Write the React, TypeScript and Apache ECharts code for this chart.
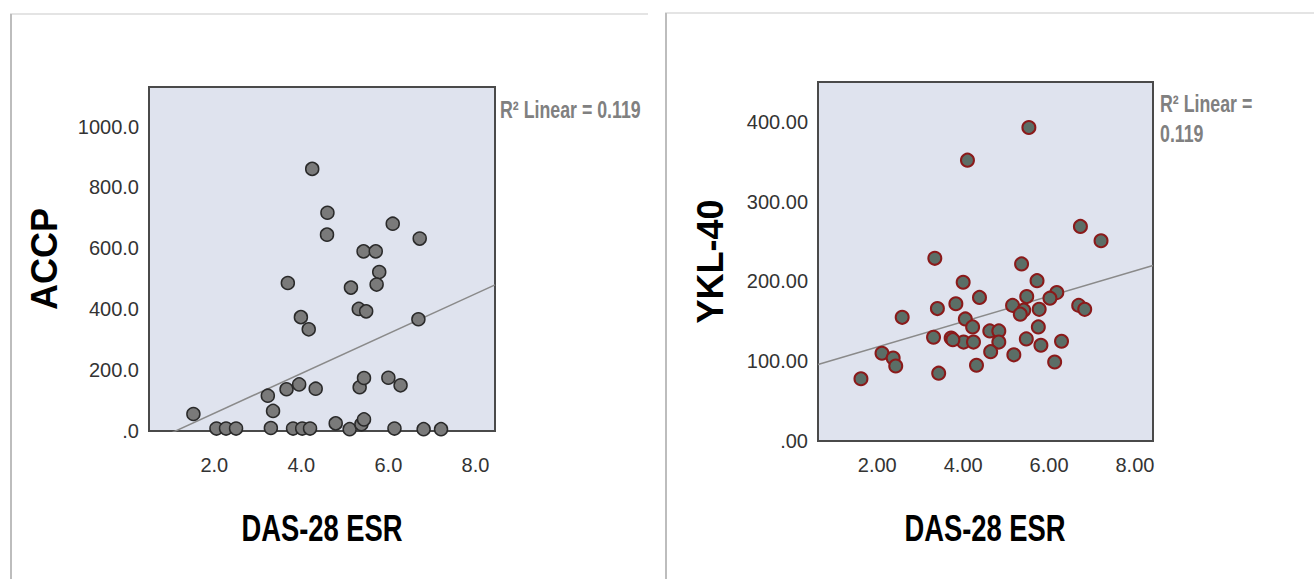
import React, { useEffect, useRef } from "react";
import * as echarts from "echarts";

// ---- Data ----
const accpDas = [4.25, 4.6, 4.59, 6.1, 6.72, 5.43, 5.71, 5.79, 5.73, 3.69, 5.14, 5.32, 5.49, 3.99, 4.17, 6.69, 3.23, 3.35, 3.66, 3.95, 4.33, 5.34, 5.44, 6.0, 6.28, 1.52, 2.05, 2.27, 2.5, 3.3, 3.81, 4.02, 4.2, 4.79, 5.11, 5.38, 5.44, 6.14, 6.81, 7.21];
const accpVal = [861, 717, 645, 681, 632, 590, 590, 522, 481, 486, 471, 401, 393, 374, 334, 367, 116, 66, 137, 153, 139, 144, 174, 175, 150, 56, 8, 8, 8, 10, 8, 8, 8, 25, 6, 22, 38, 8, 6, 6];

const yklDas = [5.53, 4.1, 6.73, 7.21, 3.34, 5.36, 5.72, 4.0, 4.38, 3.83, 5.48, 6.18, 6.02, 5.15, 5.41, 5.33, 5.77, 6.69, 6.83, 3.4, 2.58, 4.05, 4.22, 3.31, 3.72, 4.01, 4.24, 4.62, 4.83, 4.83, 4.64, 5.75, 5.47, 6.29, 5.81, 5.18, 6.13, 4.31, 3.43, 2.11, 2.37, 2.43, 1.62, 3.76];
const yklVal = [393, 352, 269, 251, 229, 222, 201, 199, 180, 172, 181, 186, 179, 170, 164, 159, 165, 170, 165, 166, 155, 153, 143, 130, 129, 124, 124, 138, 138, 124, 112, 143, 128, 125, 120, 108, 99, 95, 85, 110, 104, 94, 78, 127];

// fit lines (slope, intercept)
const accpFit = { slope: 65.4, intercept: -72.6 };
const yklFit = { slope: 15.9, intercept: 86 };

const xTicks = [2, 4, 6, 8];
const accpTicks = [0, 200, 400, 600, 800, 1000];
const yklTicks = [0, 100, 200, 300, 400];
const r2Text = "R\u00B2 Linear = 0.119";
const xName = "DAS-28 ESR";

const xRangeL = { min: 0.5, max: 8.45 };
const xRangeR = { min: 0.62, max: 8.42 };

const SANS = "'Liberation Sans', Arial, sans-serif";
const SQUEEZE = 0.74;

const zeroFmt = (v: number, d: number) => (v === 0 ? "." + "0".repeat(d) : v.toFixed(d));

export default function App() {
  const ref = useRef<HTMLDivElement>(null);
  useEffect(() => {
    if (!ref.current) return;
    const chart = echarts.init(ref.current, null, { renderer: "svg" });
    const gridStyle = {
      show: true,
      backgroundColor: "#dfe3ee",
      borderColor: "#4a4a4a",
      borderWidth: 2,
    };
    const xAxisBase = (gi: number, range: any, dec: number, margin: number) => ({
      gridIndex: gi,
      type: "value",
      min: range.min,
      max: range.max,
      splitLine: { show: false },
      axisLine: { show: false },
      axisTick: { show: false },
      axisLabel: {
        customValues: xTicks,
        formatter: (v: number) => zeroFmt(v, dec),
        margin,
        fontSize: 20,
        fontFamily: SANS,
        color: "#333",
      },
    });
    const yAxisBase = (gi: number, max: number, ticks: number[], dec: number, name: string, gap: number) => ({
      gridIndex: gi,
      type: "value",
      min: 0,
      max,
      splitLine: { show: false },
      axisLine: { show: false },
      axisTick: { show: false },
      axisLabel: {
        customValues: ticks,
        formatter: (v: number) => zeroFmt(v, dec),
        margin: 10,
        fontSize: 20,
        fontFamily: SANS,
        color: "#333",
      },
      name,
      nameLocation: "middle",
      nameGap: gap,
      nameRotate: 90,
      nameTextStyle: { fontSize: 36, fontWeight: "bold", fontFamily: SANS, color: "#000" },
    });
    const fitLine = (fit: any, range: any) => [
      [range.min, fit.slope * range.min + fit.intercept],
      [range.max, fit.slope * range.max + fit.intercept],
    ];
    const squeezedText = (x: number, y: number, text: string, style: any) => ({
      type: "text",
      x,
      y,
      scaleX: SQUEEZE,
      style: { text, fontFamily: SANS, ...style },
    });
    const option: any = {
      animation: false,
      backgroundColor: "#ffffff",
      graphic: [
        { type: "line", shape: { x1: 10, y1: 14, x2: 648, y2: 14 }, style: { stroke: "#e4e4e4", lineWidth: 2 } },
        { type: "line", shape: { x1: 11, y1: 14, x2: 11, y2: 579 }, style: { stroke: "#bdbdbd", lineWidth: 2 } },
        { type: "line", shape: { x1: 665, y1: 13, x2: 1314, y2: 13 }, style: { stroke: "#e4e4e4", lineWidth: 2 } },
        { type: "line", shape: { x1: 666, y1: 13, x2: 666, y2: 579 }, style: { stroke: "#bdbdbd", lineWidth: 2 } },
        squeezedText(500, 109, r2Text, { fontSize: 24, fontWeight: "bold", fill: "#808080", verticalAlign: "middle" }),
        squeezedText(1160, 88, r2Text.replace(" 0.119", "\n0.119"), {
          fontSize: 24,
          lineHeight: 30,
          fontWeight: "bold",
          fill: "#808080",
          verticalAlign: "top",
        }),
        squeezedText(322, 528, xName, { fontSize: 37, fontWeight: "bold", fill: "#000", align: "center", verticalAlign: "middle" }),
        squeezedText(985, 528, xName, { fontSize: 37, fontWeight: "bold", fill: "#000", align: "center", verticalAlign: "middle" }),
      ],
      grid: [
        { left: 149, top: 87, width: 346, height: 344, ...gridStyle },
        { left: 818, top: 82, width: 335, height: 359, ...gridStyle },
      ],
      xAxis: [xAxisBase(0, xRangeL, 1, 24), xAxisBase(1, xRangeR, 2, 14)],
      yAxis: [yAxisBase(0, 1130, accpTicks, 1, "ACCP", 87), yAxisBase(1, 450, yklTicks, 2, "YKL-40", 90)],
      series: [
        {
          type: "line",
          xAxisIndex: 0,
          yAxisIndex: 0,
          data: fitLine(accpFit, xRangeL),
          symbol: "none",
          clip: true,
          lineStyle: { color: "#8a8a8a", width: 1.5 },
          z: 1,
        },
        {
          type: "scatter",
          xAxisIndex: 0,
          yAxisIndex: 0,
          data: accpDas.map((x, i) => [x, accpVal[i]]),
          symbolSize: 13,
          itemStyle: { color: "#7a7a7a", borderColor: "#2a2a2a", borderWidth: 1.5, opacity: 1 },
          clip: false,
          z: 2,
        },
        {
          type: "line",
          xAxisIndex: 1,
          yAxisIndex: 1,
          data: fitLine(yklFit, xRangeR),
          symbol: "none",
          clip: true,
          lineStyle: { color: "#8a8a8a", width: 1.5 },
          z: 1,
        },
        {
          type: "scatter",
          xAxisIndex: 1,
          yAxisIndex: 1,
          data: yklDas.map((x, i) => [x, yklVal[i]]),
          symbolSize: 13,
          itemStyle: { color: "#5b6e66", borderColor: "#8b1a1a", borderWidth: 2, opacity: 1 },
          z: 2,
        },
      ],
    };
    chart.setOption(option);
    return () => chart.dispose();
  }, []);
  return <div ref={ref} style={{ position: "fixed", left: 0, top: 0, width: 1314, height: 579 }} />;
}
